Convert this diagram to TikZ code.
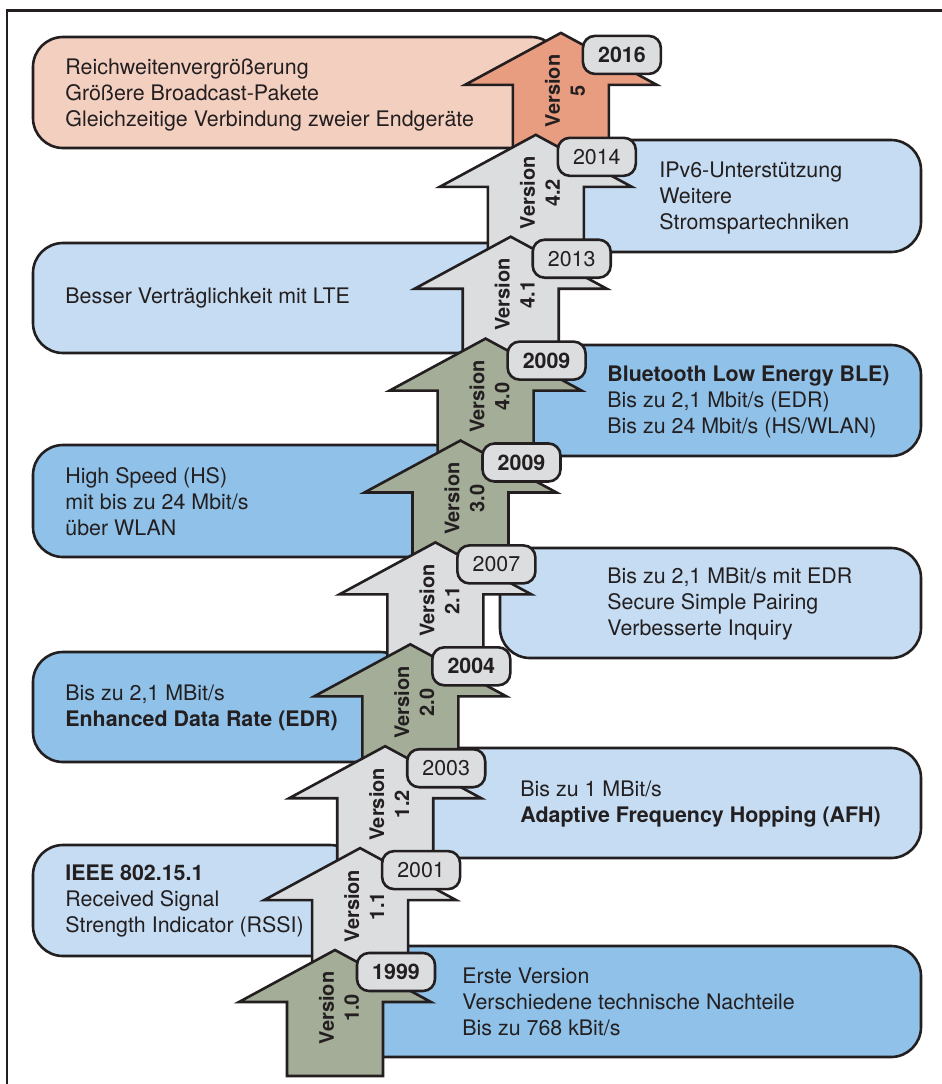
\documentclass[tikz,border=0pt]{standalone}
\usepackage{fontspec}
\setmainfont{TeX Gyre Heros}
\usepackage{tikz}
\usepackage{xcolor}

\definecolor{linecol}{HTML}{231F20}
\definecolor{boxsalmon}{HTML}{F3CFC0}
\definecolor{arsalmon}{HTML}{E89D80}
\definecolor{argrey}{HTML}{DCDDDF}
\definecolor{argreen}{HTML}{A4AD98}
\definecolor{boxlight}{HTML}{C5DCF2}
\definecolor{boxmid}{HTML}{90C1E8}

\begin{document}
\begin{tikzpicture}[x=0.5pt, y=-0.5pt,
  infobox/.style = {draw=linecol, line width=1.3pt, rounded corners=15pt},
  infotext/.style = {anchor=west, align=left, inner sep=0pt, text=linecol,
    font=\fontsize{10.7}{13}\selectfont},
  verarrow/.style = {draw=linecol, line width=1.3pt, line join=miter},
  vertext/.style = {rotate=90, align=center, inner sep=0pt, text=linecol,
    font=\bfseries\fontsize{10}{12.5}\selectfont},
  yearbox/.style = {draw=linecol, fill=argrey, line width=1.3pt, rounded corners=6pt,
    minimum width=39pt, minimum height=19pt, inner sep=0pt, text=linecol},
  yrbold/.style = {font=\bfseries\fontsize{10.7}{13}\selectfont},
  yrplain/.style = {font=\fontsize{10.7}{13}\selectfont}
  ]
  \useasboundingbox (0,0) rectangle (942,1084);
  % frame
  \draw[linecol, line width=1.3pt] (7,1084) -- (7,10.5) -- (942,10.5);

  % boxes behind the arrows
  \draw[infobox, fill=boxsalmon] (33,37) rectangle (561,148);
  \draw[infobox, fill=boxlight] (560,140) rectangle (921,252);
  \draw[infobox, fill=boxlight] (33,243) rectangle (527,353);
  \draw[infobox, fill=boxmid] (514,345) rectangle (921,456);
  \draw[infobox, fill=boxmid] (33,445) rectangle (464,557);
  \draw[infobox, fill=boxlight] (500,548) rectangle (921,658);
  \draw[infobox, fill=boxmid] (33,652) rectangle (410,762);
  \draw[infobox, fill=boxlight] (405,748) rectangle (921,858);
  \draw[infobox, fill=boxlight] (33,845) rectangle (360,956);
  \draw[infobox, fill=boxmid] (355,946) rectangle (921,1057);

  \node[infotext] (t5) at (65,95) {Reichweitenvergrößerung\\Größere Broadcast-Pakete\\Gleichzeitige Verbindung zweier Endgeräte};
  \node[infotext] (t42) at (659,198) {IPv6-Unterstützung\\Weitere\\Stromspartechniken};
  \node[infotext] (t41) at (65,298) {Besser Verträglichkeit mit LTE};
  \node[infotext] (t40) at (607,402) {\textbf{Bluetooth Low Energy BLE)}\\Bis zu 2,1 Mbit/s (EDR)\\Bis zu 24 Mbit/s (HS/WLAN)};
  \node[infotext] (t30) at (65,502) {High Speed (HS)\\mit bis zu 24 Mbit/s\\über WLAN};
  \node[infotext] (t21) at (607,604) {Bis zu 2,1 MBit/s mit EDR\\Secure Simple Pairing\\Verbesserte Inquiry};
  \node[infotext] (t20) at (65,708) {Bis zu 2,1 MBit/s\\\textbf{Enhanced Data Rate (EDR)}};
  \node[infotext] (t12) at (520,804) {Bis zu 1 MBit/s\\\textbf{Adaptive Frequency Hopping (AFH)}};
  \node[infotext] (t11) at (65,901) {\textbf{IEEE 802.15.1}\\Received Signal\\Strength Indicator (RSSI)};
  \node[infotext] (t10) at (462,1002) {Erste Version\\Verschiedene technische Nachteile\\Bis zu 768 kBit/s};

  % version arrows, top to bottom
  \foreach \i/\ver/\yr/\acol/\yst in {9/5/2016/arsalmon/yrbold, 8/4.2/2014/argrey/yrplain,
      7/4.1/2013/argrey/yrplain, 6/4.0/2009/argreen/yrbold, 5/3.0/2009/argreen/yrbold,
      4/2.1/2007/argrey/yrplain, 3/2.0/2004/argreen/yrbold, 2/1.2/2003/argrey/yrplain,
      1/1.1/2001/argrey/yrplain, 0/1.0/1999/argreen/yrbold}{
    \pgfmathsetmacro\cx{335+25.1*\i}
    \pgfmathsetmacro\ty{950-101.9*\i}
    \filldraw[verarrow, fill=\acol] (\cx,\ty) -- ++(96,52) -- ++(-48,0) -- ++(0,74)
      -- ++(-96,0) -- ++(0,-74) -- ++(-48,0) -- cycle;
    \node[vertext] (v\i) at (\cx+4,\ty+58) {Version\\\ver};
    \node[yearbox,\yst] (y\i) at (\cx+61,\ty+22) {\yr};
  }
\end{tikzpicture}
\end{document}
